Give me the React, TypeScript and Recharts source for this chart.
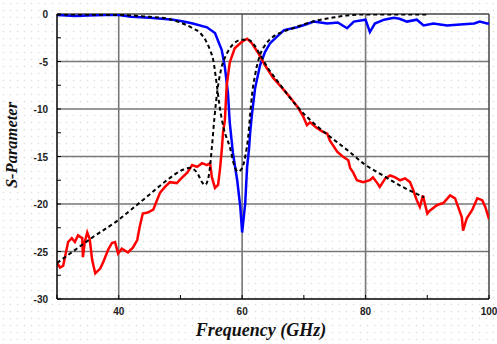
import React from 'react';
import { LineChart, Line, XAxis, YAxis, ReferenceLine } from 'recharts';

// measured transmission (red)
const s21MeasFreq = [30, 30.5, 31, 31.8, 32.4, 32.9, 33.4, 34.1, 34.2, 34.5, 34.9, 35.3, 35.7, 36.2, 37, 37.5, 38.3, 38.9, 39.4, 39.9, 40.5, 41.5, 42.3, 43, 43.4, 43.9, 44.7, 45.6, 46.2, 46.7, 47.5, 48.3, 49.4, 50.3, 51.1, 51.9, 52.7, 53.5, 54.3, 54.8, 55.1, 55.6, 56.1, 56.4, 56.7, 56.9, 57.2, 57.5, 58, 58.8, 60, 60.8, 61.6, 62.6, 63.7, 65, 66.5, 67.8, 69.1, 69.9, 70.5, 71, 72.1, 73.1, 73.8, 74.2, 75.4, 76.3, 77.2, 77.5, 78, 78.6, 79.6, 80.7, 81.2, 81.9, 82.3, 83.2, 84, 84.8, 85.6, 86.4, 87.2, 87.7, 88.3, 88.8, 89.3, 90, 90.4, 91.6, 92.6, 93.7, 94.5, 95, 95.6, 95.8, 96.4, 97.3, 98.1, 98.9, 99.4, 100];
const s21MeasDb = [-26.2, -26.7, -26.5, -24, -23.6, -24, -23.3, -23.6, -25.6, -24, -23, -23.7, -25.9, -27.3, -26.8, -26.1, -24.8, -24.1, -24, -25.2, -24.7, -25.1, -24.6, -23.8, -22.4, -21, -20.9, -20.6, -19.6, -18.8, -18.2, -17.7, -17.8, -17.2, -16.7, -15.9, -16.1, -15.7, -15.9, -15.7, -17.2, -18.3, -18, -16.4, -14.3, -12.5, -11.2, -7.5, -5.1, -3.6, -2.9, -2.6, -3.1, -4.1, -5.4, -6.7, -7.8, -8.8, -9.9, -10.8, -11.7, -11.4, -12, -12.4, -12.6, -13.3, -14.5, -15, -15.4, -16.2, -16.7, -17.5, -17.7, -17.5, -17.2, -17.8, -18.2, -17.3, -17, -17.2, -17.5, -17.3, -17.7, -18.5, -19.6, -20.3, -19.1, -21, -20.7, -20.1, -19.9, -19.1, -19.4, -20.3, -21.4, -22.8, -21.5, -20.6, -19.4, -19.6, -20.3, -21.6];

// measured reflection (blue)
const s11MeasFreq = [30, 33, 35, 38, 40, 42, 45, 47, 48.8, 50.5, 52, 54.3, 55.6, 56.7, 57.2, 57.7, 58, 58.5, 59.2, 59.7, 60, 60.5, 60.8, 61.1, 61.3, 61.6, 62.1, 62.9, 63.7, 64.5, 65.6, 66.8, 68.9, 70.3, 71.6, 72.7, 73.8, 75.5, 77, 78.1, 80, 80.7, 81.5, 83, 84.6, 85.5, 86.7, 88.3, 89.4, 91, 93.2, 95.3, 97.6, 98.5, 99.7, 100];
const s11MeasDb = [-0.1, -0.2, -0.15, -0.1, -0.1, -0.3, -0.4, -0.5, -0.6, -0.8, -1, -1.4, -2, -3.8, -5.6, -8.3, -11.5, -14.6, -17.5, -20.3, -23, -19.9, -16.1, -14.3, -12.5, -10.5, -7.8, -5.4, -4, -3.1, -2.4, -1.7, -1.4, -1.1, -0.8, -0.9, -1, -0.9, -1.5, -0.8, -0.6, -1.9, -1, -0.6, -0.4, -0.5, -0.8, -0.6, -1.2, -1, -1.2, -1.1, -1, -0.8, -1, -1];

// simulated reflection (black dashed)
const s11SimFreq = [30, 40, 45, 48, 50, 52, 53.2, 54.8, 55.3, 55.9, 56.3, 57, 58, 58.8, 59.3, 60, 60.5, 61, 61.3, 61.6, 62.1, 62.9, 63.7, 65, 66.5, 68.2, 70, 72, 75, 77, 80, 85, 90];
const s11SimDb = [-0.05, -0.1, -0.3, -0.5, -0.9, -1.5, -2, -3.8, -4.8, -7.5, -9.5, -12, -14, -16.1, -16.6, -16.2, -15, -12.8, -10.6, -8.5, -6.4, -4.3, -3.3, -2.4, -1.9, -1.5, -1.1, -0.7, -0.35, -0.15, -0.05, -0.05, -0.05];

// simulated transmission (black dashed)
const s21SimFreq = [30, 33, 36, 39.7, 42, 45, 48, 50.4, 51.5, 52.7, 53.5, 54, 54.6, 55.1, 55.5, 56, 56.6, 57.5, 58.5, 60, 61, 62, 63, 64, 66, 69, 71.6, 74.2, 77, 80, 82.3, 86, 89.5];
const s21SimDb = [-26.2, -24.8, -23.4, -21.8, -20.6, -19, -17.4, -16.4, -16.2, -16.7, -17.7, -18, -17, -14, -11, -8, -5.8, -4.2, -3.2, -2.7, -2.7, -3.3, -4.4, -5.5, -7.3, -9.8, -11.5, -12.9, -14.3, -15.9, -16.8, -18.2, -19.3];

const xTicks = [30, 40, 50, 60, 70, 80, 90, 100];
const yTicks = [0, -2.5, -5, -7.5, -10, -12.5, -15, -17.5, -20, -22.5, -25, -27.5, -30];
const xGrid = [40, 60, 80];
const yGrid = [-5, -10, -15, -20, -25];

const pairs = (f: number[], v: number[]) => f.map((x, i) => ({ f: x, v: v[i] }));

const tickFont = { fontFamily: 'Liberation Sans, Arial, sans-serif', fontSize: 10, fontWeight: 700, fill: '#222' };

const XTick = ({ x, y, payload }: any) => (
  <g>
    <line x1={x} x2={x} y1={y} y2={y - 4} stroke="#000" strokeWidth={1} />
    {payload.value % 20 === 0 && (
      <text x={x} y={y + 16} textAnchor="middle" {...tickFont}>{payload.value}</text>
    )}
  </g>
);

const YTick = ({ x, y, payload }: any) => (
  <g>
    <line x1={x} x2={x + 4} y1={y} y2={y} stroke="#000" strokeWidth={1} />
    {payload.value % 5 === 0 && (
      <text x={x - 9} y={y + 4} textAnchor="end" {...tickFont}>{payload.value}</text>
    )}
  </g>
);

export default function App() {
  return (
    <div
      style={{
        position: 'absolute', left: 0, top: 0, width: 497, height: 344, background: '#fff',
        backgroundImage: 'radial-gradient(#e2e2e2 0.8px, transparent 1.1px)',
        backgroundSize: '7px 7px'
      }}
    >
      <LineChart width={497} height={344} margin={{ top: 14, right: 8, left: 0, bottom: 0 }}>
        <XAxis
          dataKey="f" type="number" domain={[30, 100]} ticks={xTicks} interval={0}
          height={45} tickSize={0} tickMargin={0} tick={<XTick />}
          axisLine={{ stroke: '#000', strokeWidth: 1.5 }} tickLine={false}
          allowDataOverflow
        />
        <YAxis
          dataKey="v" type="number" domain={[-30, 0]} ticks={yTicks} interval={0}
          width={57} tickSize={0} tickMargin={0} tick={<YTick />}
          axisLine={{ stroke: '#000', strokeWidth: 1.5 }} tickLine={false}
          allowDataOverflow
        />
        {xGrid.map(g => (
          <ReferenceLine key={'x' + g} x={g} stroke="#777" strokeWidth={1.6} />
        ))}
        {yGrid.map(g => (
          <ReferenceLine key={'y' + g} y={g} stroke="#777" strokeWidth={1.6} />
        ))}
        <ReferenceLine y={0} stroke="#444" strokeWidth={1.5} />
        <ReferenceLine x={100} stroke="#444" strokeWidth={1.5} />
        <Line data={pairs(s11MeasFreq, s11MeasDb)} dataKey="v" stroke="#0000ff" strokeWidth={2.5} dot={false} isAnimationActive={false} type="linear" />
        <Line data={pairs(s21MeasFreq, s21MeasDb)} dataKey="v" stroke="#ff0000" strokeWidth={2.5} dot={false} isAnimationActive={false} type="linear" />
        <Line data={pairs(s11SimFreq, s11SimDb)} dataKey="v" stroke="#000" strokeWidth={2} strokeDasharray="4 3" dot={false} isAnimationActive={false} type="monotone" />
        <Line data={pairs(s21SimFreq, s21SimDb)} dataKey="v" stroke="#000" strokeWidth={2} strokeDasharray="4 3" dot={false} isAnimationActive={false} type="monotone" />
      </LineChart>
      <div
        style={{
          position: 'absolute', left: 161, top: 320, width: 200, textAlign: 'center', whiteSpace: 'nowrap',
          fontFamily: 'Liberation Serif, Times New Roman, serif', fontStyle: 'italic', fontWeight: 700, fontSize: 18, color: '#111'
        }}
      >
        Frequency (GHz)
      </div>
      <div
        style={{
          position: 'absolute', left: 12, top: 145, transform: 'translate(-50%, -50%) rotate(-90deg)', whiteSpace: 'nowrap',
          fontFamily: 'Liberation Serif, Times New Roman, serif', fontStyle: 'italic', fontWeight: 700, fontSize: 16.5, color: '#111'
        }}
      >
        S-Parameter
      </div>
    </div>
  );
}
